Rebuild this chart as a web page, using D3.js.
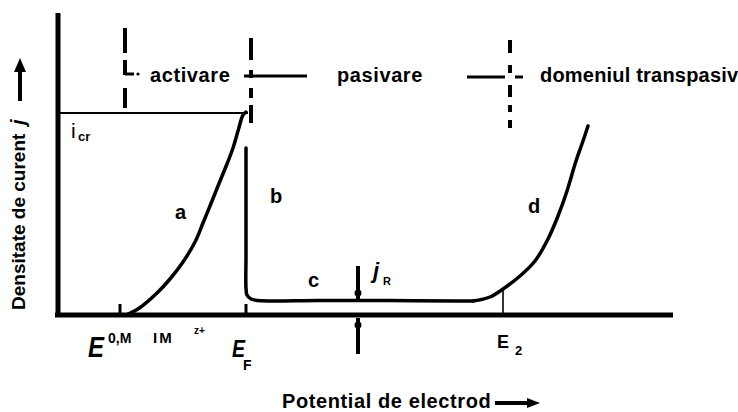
<!DOCTYPE html>
<html>
<head>
<meta charset="utf-8">
<script src="https://cdn.jsdelivr.net/npm/d3@7"></script>
<style>
  html, body { margin: 0; padding: 0; background: #fff; }
  svg text { font-family: "Liberation Sans", Arial, sans-serif; fill: #000; }
</style>
</head>
<body>
<svg id="chart" width="738" height="412"></svg>
<script>
// Schematic anodic polarisation curve (arbitrary units: potential E, current density j)
const curveActive = [[68, 0], [80, 6], [99, 22], [112, 36], [125, 53], [137, 73], [145, 92],
  [154, 114], [162, 134], [169, 151], [175, 167], [180, 184], [185, 200], [188, 203]];
const curvePassive = [[188, 167], [188, 60], [188, 27], [189, 20], [193, 16], [200, 14.5],
  [260, 14.5], [330, 14.5], [400, 14], [415, 14]];
const curveTranspassive = [[415, 14], [432, 18], [445, 26], [462, 39], [477, 54], [490, 76],
  [500, 99], [509, 124], [518, 154], [525, 174], [530, 189]];
const jCritical = 202;          // i_cr level
const ePassivation = 188;       // E_F
const eEquilibrium = 62;        // E0 M/M z+
const eTranspassive = 445;      // E_2
const jPassiveMark = 300;       // position of the j_R arrows
const regionBounds = [67, 193, 452];
const regionLabels = ["activare", "pasivare", "domeniul transpasiv"];
const curveLabels = [["a", 117, 96], ["b", 212, 112], ["c", 250, 28], ["d", 470, 102]];

const svg = d3.select("#chart");
const x = d3.scaleLinear().domain([0, 615]).range([58, 673]);
const y = d3.scaleLinear().domain([0, 300]).range([315, 15]);

// axes
svg.append("line").attr("x1", x(-3)).attr("x2", x(615)).attr("y1", y(0)).attr("y2", y(0))
  .attr("stroke", "#000").attr("stroke-width", 5);
svg.append("line").attr("x1", x(0)).attr("x2", x(0)).attr("y1", y(-1)).attr("y2", y(302))
  .attr("stroke", "#000").attr("stroke-width", 5);

// ticks on the potential axis
[eEquilibrium, ePassivation].forEach(v => {
  svg.append("line").attr("x1", x(v)).attr("x2", x(v)).attr("y1", y(0)).attr("y2", y(11))
    .attr("stroke", "#000").attr("stroke-width", 3);
});

// critical current level
svg.append("line").attr("x1", x(0)).attr("x2", x(190)).attr("y1", y(jCritical)).attr("y2", y(jCritical))
  .attr("stroke", "#000").attr("stroke-width", 2);

const line = d3.line().x(d => x(d[0])).y(d => y(d[1])).curve(d3.curveCatmullRom.alpha(0.5));
[curveActive, curvePassive, curveTranspassive].forEach(c => {
  svg.append("path").attr("d", line(c)).attr("fill", "none").attr("stroke", "#000")
    .attr("stroke-width", 3.5).attr("stroke-linejoin", "round").attr("stroke-linecap", "round");
});

// E2 marker
svg.append("line").attr("x1", x(eTranspassive)).attr("x2", x(eTranspassive)).attr("y1", y(0)).attr("y2", y(26))
  .attr("stroke", "#000").attr("stroke-width", 1.6);

// region separators (dashed)
const dashSpecs = [
  { v: regionBounds[0], top: 287, bot: 207, dash: "25,7,15,13,20" },
  { v: regionBounds[1], top: 277, bot: 192, dash: "22,10,8,10,10,7,18" },
  { v: regionBounds[2], top: 275, bot: 187, dash: "13,12,8,12,12,8,7,8,8" }
];
dashSpecs.forEach(s => {
  svg.append("line").attr("x1", x(s.v)).attr("x2", x(s.v)).attr("y1", y(s.top)).attr("y2", y(s.bot))
    .attr("stroke", "#000").attr("stroke-width", 4).attr("stroke-dasharray", s.dash);
});

// bracket strokes around the region names
const bracketY = 76;
const seg = (x1, x2, yy, w) => svg.append("line").attr("x1", x1).attr("x2", x2).attr("y1", yy).attr("y2", yy)
  .attr("stroke", "#000").attr("stroke-width", w);
seg(x(regionBounds[0]), x(regionBounds[0]) + 9, bracketY - 2, 3);
svg.append("circle").attr("cx", x(regionBounds[0]) + 13).attr("cy", bracketY - 2).attr("r", 1.6);
seg(x(regionBounds[1]) - 7, x(regionBounds[1]) + 56, bracketY, 3);
seg(x(regionBounds[2]) - 43, x(regionBounds[2]) - 5, bracketY + 1, 3);
seg(x(regionBounds[2]) + 5, x(regionBounds[2]) + 13, bracketY + 1, 3);

const regionX = [150, 337, 540];
regionLabels.forEach((t, i) => {
  svg.append("text").attr("x", regionX[i]).attr("y", 82).text(t)
    .attr("font-size", 20).attr("font-weight", "bold")
    .attr("letter-spacing", i === 2 ? 0.2 : 0.6);
});

// curve letters
curveLabels.forEach(([t, ex, jy]) => {
  svg.append("text").attr("x", x(ex)).attr("y", y(jy)).text(t)
    .attr("font-size", 20).attr("font-weight", "bold");
});

// i_cr
svg.append("text").attr("x", 71).attr("y", 138).attr("font-size", 21).text("i");
svg.append("text").attr("x", 78).attr("y", 141).attr("font-size", 13).attr("font-weight", "bold").text("cr");

// j_R arrows
const arrow = (x0, y1, y2) => {
  svg.append("line").attr("x1", x0).attr("x2", x0).attr("y1", y1).attr("y2", y2)
    .attr("stroke", "#000").attr("stroke-width", 4);
};
arrow(x(jPassiveMark), y(49), y(15));
svg.append("circle").attr("cx", x(jPassiveMark)).attr("cy", y(22)).attr("r", 3.5);
arrow(x(jPassiveMark), y(-39), y(-3));
svg.append("circle").attr("cx", x(jPassiveMark)).attr("cy", y(-10)).attr("r", 3.5);
svg.append("text").attr("x", 373).attr("y", 278).attr("font-size", 22).attr("font-weight", "bold")
  .attr("font-style", "italic").text("j");
svg.append("text").attr("x", 383).attr("y", 285).attr("font-size", 11).attr("font-weight", "bold").text("R");

// potential labels
svg.append("text").attr("transform", "translate(88,357) scale(0.8,1)").attr("font-size", 30)
  .attr("font-weight", "bold").attr("font-style", "italic").text("E");
svg.append("text").attr("x", 108).attr("y", 343).attr("font-size", 14).attr("font-weight", "bold").text("0,M");
svg.append("text").attr("x", 153).attr("y", 343).attr("font-size", 15).attr("font-weight", "bold")
  .attr("letter-spacing", 2).text("IM");
svg.append("text").attr("x", 194).attr("y", 334).attr("font-size", 10).attr("font-weight", "bold").text("z+");
svg.append("text").attr("transform", "translate(232,357) scale(0.85,1)").attr("font-size", 23)
  .attr("font-weight", "bold").attr("font-style", "italic").text("E");
svg.append("text").attr("x", 243).attr("y", 370).attr("font-size", 14).attr("font-weight", "bold").text("F");
svg.append("text").attr("x", 497).attr("y", 348).attr("font-size", 18).attr("font-weight", "bold").text("E");
svg.append("text").attr("x", 515).attr("y", 355).attr("font-size", 13).attr("font-weight", "bold").text("2");

// axis titles
svg.append("text").attr("transform", "translate(25,310) rotate(-90)")
  .attr("font-size", 19).attr("font-weight", "bold").text("Densitate de curent");
svg.append("text").attr("transform", "translate(25,125) rotate(-90)")
  .attr("font-size", 20).attr("font-weight", "bold").attr("font-style", "italic").text("j");
svg.append("line").attr("x1", 20).attr("x2", 20).attr("y1", 101).attr("y2", 70)
  .attr("stroke", "#000").attr("stroke-width", 4);
svg.append("path").attr("d", "M14,72 L20,58 L26,72 Z");

svg.append("text").attr("x", 282).attr("y", 408).attr("font-size", 20).attr("font-weight", "bold")
  .attr("letter-spacing", 0.6).text("Potential de electrod");
svg.append("line").attr("x1", 495).attr("x2", 530).attr("y1", 403).attr("y2", 403)
  .attr("stroke", "#000").attr("stroke-width", 4);
svg.append("path").attr("d", "M527,398 L540,403 L527,408 Z");
</script>
</body>
</html>
